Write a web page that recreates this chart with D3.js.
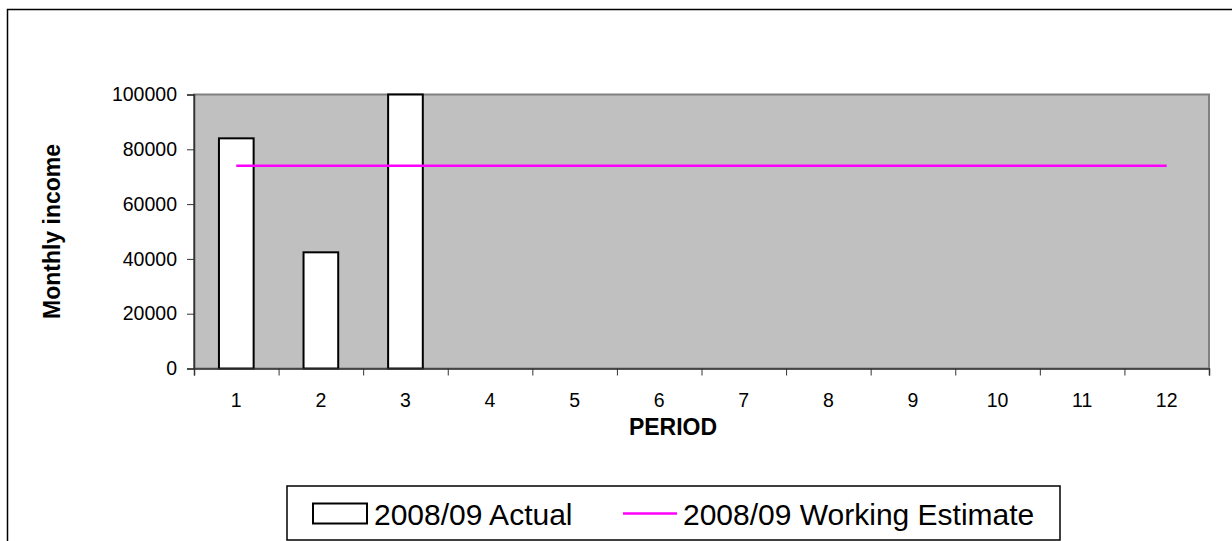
<!DOCTYPE html>
<html>
<head>
<meta charset="utf-8">
<script src="https://cdn.jsdelivr.net/npm/d3@7"></script>
<style>
  html, body { margin: 0; padding: 0; background: #fff; }
  svg { display: block; font-family: "Liberation Sans", Arial, sans-serif; }
</style>
</head>
<body>
<svg id="chart" width="1232" height="541"></svg>
<script>
const periods = ['1', '2', '3', '4', '5', '6', '7', '8', '9', '10', '11', '12'];
const actual = [84000, 42400, 100000];           // 2008/09 Actual, only first 3 periods
const estimate = periods.map(() => 74000);       // 2008/09 Working Estimate, flat
const yTicks = [0, 20000, 40000, 60000, 80000, 100000];
const seriesNames = ['2008/09 Actual', '2008/09 Working Estimate'];

const svg = d3.select('#chart');

// plot area
const plot = { left: 194, right: 1209, top: 94.5, bottom: 368.5 };

const x = d3.scaleBand()
    .domain(periods)
    .range([plot.left, plot.right])
    .paddingInner(0.59)
    .paddingOuter(0.295);

const xEdges = d3.scaleLinear()
    .domain([0, periods.length])
    .range([plot.left, plot.right]);

const y = d3.scaleLinear()
    .domain([0, 100000])
    .range([plot.bottom, plot.top]);

// outer chart border (runs off the right / bottom edge)
svg.append('rect')
    .attr('x', 7.5).attr('y', 9.5)
    .attr('width', 1240).attr('height', 560)
    .attr('fill', 'none')
    .attr('stroke', '#000')
    .attr('stroke-width', 1.5);

// grey plot background
svg.append('rect')
    .attr('x', plot.left).attr('y', plot.top)
    .attr('width', plot.right - plot.left)
    .attr('height', plot.bottom - plot.top)
    .attr('fill', '#c0c0c0')
    .attr('stroke', '#808080')
    .attr('stroke-width', 2);

// bars
svg.append('g')
    .selectAll('rect')
    .data(actual)
    .enter()
    .append('rect')
    .attr('x', (d, i) => x(periods[i]))
    .attr('y', d => y(d))
    .attr('width', x.bandwidth())
    .attr('height', d => y(0) - y(d))
    .attr('fill', '#fff')
    .attr('stroke', '#000')
    .attr('stroke-width', 2);

// working estimate line
const line = d3.line()
    .x((d, i) => x(periods[i]) + x.bandwidth() / 2)
    .y(d => y(d));

svg.append('path')
    .datum(estimate)
    .attr('d', line)
    .attr('fill', 'none')
    .attr('stroke', '#ff00ff')
    .attr('stroke-width', 2.5);

// y axis
const yAxis = svg.append('g')
    .attr('transform', `translate(${plot.left},0)`)
    .call(d3.axisLeft(y).tickValues(yTicks).tickFormat(d3.format('d')).tickSize(7).tickPadding(10));
yAxis.select('.domain').attr('stroke', '#333').attr('stroke-width', 1.5);
yAxis.selectAll('line').attr('stroke', '#333');
yAxis.selectAll('text')
    .attr('font-size', '19.5px')
    .attr('font-family', '"Liberation Sans", Arial, sans-serif')
    .attr('fill', '#000');

// x axis: ticks on band edges, labels in band centres
const xTickAxis = svg.append('g')
    .attr('transform', `translate(0,${plot.bottom})`)
    .call(d3.axisBottom(xEdges).tickValues(d3.range(periods.length + 1)).tickSize(7).tickFormat(''));
xTickAxis.select('.domain').attr('stroke', '#333').attr('stroke-width', 1.5);
xTickAxis.selectAll('line').attr('stroke', '#333');

const xLabelAxis = svg.append('g')
    .attr('transform', `translate(0,${plot.bottom})`)
    .call(d3.axisBottom(x).tickSize(0).tickPadding(24.5));
xLabelAxis.select('.domain').remove();
xLabelAxis.selectAll('text')
    .attr('font-size', '19.5px')
    .attr('font-family', '"Liberation Sans", Arial, sans-serif')
    .attr('fill', '#000');

// axis titles
svg.append('text')
    .attr('x', 673)
    .attr('y', 435)
    .attr('text-anchor', 'middle')
    .attr('font-size', '23px')
    .attr('font-weight', 'bold')
    .text('PERIOD');

svg.append('text')
    .attr('transform', `translate(60,${(plot.top + plot.bottom) / 2}) rotate(-90)`)
    .attr('text-anchor', 'middle')
    .attr('font-size', '23px')
    .attr('font-weight', 'bold')
    .text('Monthly income');

// legend
const legend = svg.append('g');
legend.append('rect')
    .attr('x', 287).attr('y', 486)
    .attr('width', 773).attr('height', 54)
    .attr('fill', '#fff')
    .attr('stroke', '#000')
    .attr('stroke-width', 1.5);

legend.append('rect')
    .attr('x', 313).attr('y', 503.5)
    .attr('width', 54).attr('height', 20)
    .attr('fill', '#fff')
    .attr('stroke', '#000')
    .attr('stroke-width', 2);

legend.append('text')
    .attr('x', 374).attr('y', 524.5)
    .attr('font-size', '30px')
    .text(seriesNames[0]);

legend.append('line')
    .attr('x1', 623).attr('x2', 677)
    .attr('y1', 513.5).attr('y2', 513.5)
    .attr('stroke', '#ff00ff')
    .attr('stroke-width', 2.5);

legend.append('text')
    .attr('x', 683).attr('y', 524.5)
    .attr('font-size', '30px')
    .text(seriesNames[1]);
</script>
</body>
</html>
